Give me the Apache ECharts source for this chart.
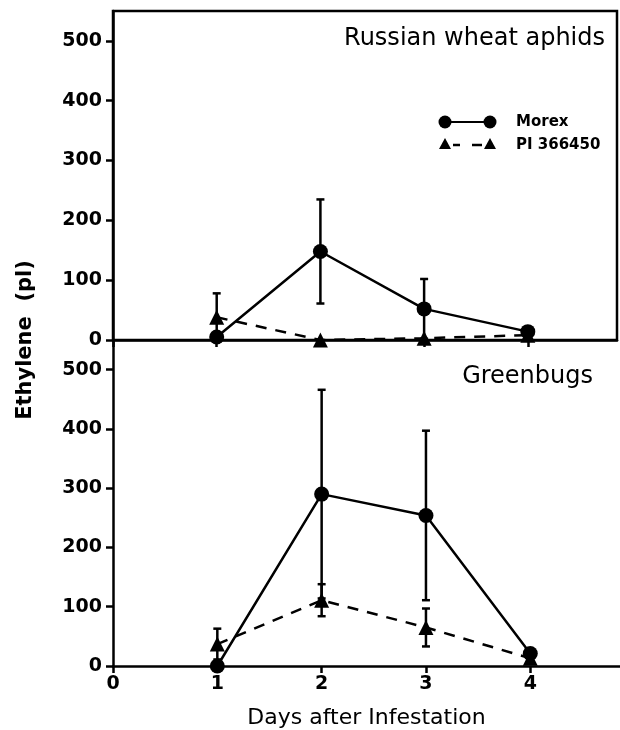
<!DOCTYPE html>
<html>
	<head>
		<meta http-equiv="Content-Type" content="text/html; charset=utf-8" />
		<title>ethylene</title>
		<script type="text/javascript" src="https://cdn.jsdelivr.net/npm/echarts@6/dist/echarts.min.js"></script>
	</head>
	<body style="margin:0;background:#fff;">
		<div id='content' style="width:620px;height:730px;"></div>
	</body>
	<script>
		var days = [1, 2, 3, 4];
		var xTicks = ['0', '1', '2', '3', '4'];
		var yTicks = ['0', '100', '200', '300', '400', '500'];

		// Russian wheat aphids
		var rwaMorex = [5, 148, 52, 14];
		var rwaMorexErr = [0, 87, 50, 0];
		var rwaPI = [38, 0, 3, 8];
		var rwaPIErr = [40, 0, 0, 0];

		// Greenbugs
		var gbMorex = [0, 290, 254, 21];
		var gbMorexErr = [0, 176, 143, 0];
		var gbPI = [37, 111, 65, 13];
		var gbPIErr = [26, 27, 32, 0];

		var font = 'DejaVu Sans';
		var myChart = echarts.init(document.getElementById('content'));

		function pts(vals) {
			return days.map(function (d, i) { return [d, vals[i]]; });
		}
		function errs(vals, e) {
			var out = [];
			days.forEach(function (d, i) {
				if (e[i] > 0) out.push([d, vals[i] - e[i], vals[i] + e[i]]);
			});
			return out;
		}
		function errBar(params, api) {
			var x = api.value(0);
			var lo = api.coord([x, Math.max(api.value(1), 0)]);
			var hi = api.coord([x, api.value(2)]);
			var w = 4;
			var st = { stroke: '#000', lineWidth: 2.5 };
			return {
				type: 'group',
				children: [
					{ type: 'line', shape: { x1: lo[0], y1: lo[1], x2: hi[0], y2: hi[1] }, style: st },
					{ type: 'line', shape: { x1: hi[0] - w, y1: hi[1], x2: hi[0] + w, y2: hi[1] }, style: st },
					{ type: 'line', shape: { x1: lo[0] - w, y1: lo[1], x2: lo[0] + w, y2: lo[1] }, style: st }
				]
			};
		}
		var xVals = xTicks.map(Number);
		var yVals = yTicks.map(Number);
		function xAxis(idx, labels) {
			return {
				type: 'value', gridIndex: idx, min: 0, max: 4.86, interval: 1,
				axisLine: { onZero: false, lineStyle: { color: '#000', width: 2.5 } },
				axisTick: { show: true, length: 7, customValues: xVals, lineStyle: { color: '#000', width: 2.5 } },
				axisLabel: {
					show: labels, customValues: xVals, margin: 9,
					color: '#000', fontFamily: font, fontSize: 19, fontWeight: 'bold',
					formatter: function (v) { return xTicks[v] || ''; }
				},
				splitLine: { show: false },
				name: labels ? 'Days after Infestation' : '',
				nameLocation: 'middle', nameGap: 41,
				nameTextStyle: { color: '#000', fontFamily: font, fontSize: 22 }
			};
		}
		function yAxis(idx) {
			return {
				type: 'value', gridIndex: idx, min: 0, max: 550, interval: 100,
				axisLine: { show: true, lineStyle: { color: '#000', width: 2.5 } },
				axisTick: { show: true, length: 7, customValues: yVals, lineStyle: { color: '#000', width: 2.5 } },
				axisLabel: {
					customValues: yVals, margin: 11,
					color: '#000', fontFamily: font, fontSize: 19, fontWeight: 'bold',
					formatter: function (v) { return yTicks[v / 100] || ''; }
				},
				splitLine: { show: false }
			};
		}
		function lineSeries(idx, vals, sym, dashed) {
			return {
				type: 'line', xAxisIndex: idx, yAxisIndex: idx, data: pts(vals),
				symbol: sym, symbolSize: 15,
				itemStyle: { color: '#000' },
				lineStyle: { color: '#000', width: 2.5, type: dashed ? [11, 9] : 'solid' },
				z: 3, animation: false
			};
		}
		function errSeries(idx, vals, e) {
			return {
				type: 'custom', xAxisIndex: idx, yAxisIndex: idx,
				data: errs(vals, e), renderItem: errBar, z: 2, animation: false
			};
		}

		var legendItems = [
			{ type: 'circle', shape: { cx: 445, cy: 122, r: 6.5 }, style: { fill: '#000' } },
			{ type: 'circle', shape: { cx: 490, cy: 122, r: 6.5 }, style: { fill: '#000' } },
			{ type: 'line', shape: { x1: 451, y1: 122, x2: 484, y2: 122 }, style: { stroke: '#000', lineWidth: 2 } },
			{ type: 'polygon', shape: { points: [[445, 138], [439, 149], [451, 149]] }, style: { fill: '#000' } },
			{ type: 'polygon', shape: { points: [[490, 138], [484, 149], [496, 149]] }, style: { fill: '#000' } },
			{ type: 'line', shape: { x1: 453, y1: 145, x2: 460, y2: 145 }, style: { stroke: '#000', lineWidth: 2.5 } },
			{ type: 'line', shape: { x1: 472, y1: 145, x2: 482, y2: 145 }, style: { stroke: '#000', lineWidth: 2.5 } },
			{ type: 'text', x: 516, y: 122, style: { text: 'Morex', fill: '#000', font: 'bold 15px "DejaVu Sans"', verticalAlign: 'middle' } },
			{ type: 'text', x: 516, y: 145, style: { text: 'PI 366450', fill: '#000', font: 'bold 15px "DejaVu Sans"', verticalAlign: 'middle' } },
			{ type: 'text', x: 26, y: 340, rotation: Math.PI / 2,
			  style: { text: 'Ethylene  (pl)', fill: '#000', font: 'bold 21px "DejaVu Sans"', align: 'center', verticalAlign: 'middle' } }
		];

		myChart.setOption({
			backgroundColor: '#fff',
			animation: false,
			title: [
				{ text: 'Russian wheat aphids', right: 10, top: 22,
				  textStyle: { color: '#000', fontFamily: font, fontSize: 24, fontWeight: 'normal' } },
				{ text: 'Greenbugs', right: 22, top: 360,
				  textStyle: { color: '#000', fontFamily: font, fontSize: 24, fontWeight: 'normal' } }
			],
			grid: [
				{ left: 113, right: 3, top: 11, height: 329, show: true, borderColor: '#000', borderWidth: 2.5, backgroundColor: 'transparent' },
				{ left: 113, right: 0, top: 340, height: 328 }
			],
			xAxis: [xAxis(0, false), xAxis(1, true)],
			yAxis: [yAxis(0), yAxis(1)],
			graphic: legendItems,
			series: [
				errSeries(0, rwaMorex, rwaMorexErr),
				errSeries(0, rwaPI, rwaPIErr),
				lineSeries(0, rwaMorex, 'circle', false),
				lineSeries(0, rwaPI, 'triangle', true),
				errSeries(1, gbMorex, gbMorexErr),
				errSeries(1, gbPI, gbPIErr),
				lineSeries(1, gbMorex, 'circle', false),
				lineSeries(1, gbPI, 'triangle', true)
			]
		});
	</script>
</html>
